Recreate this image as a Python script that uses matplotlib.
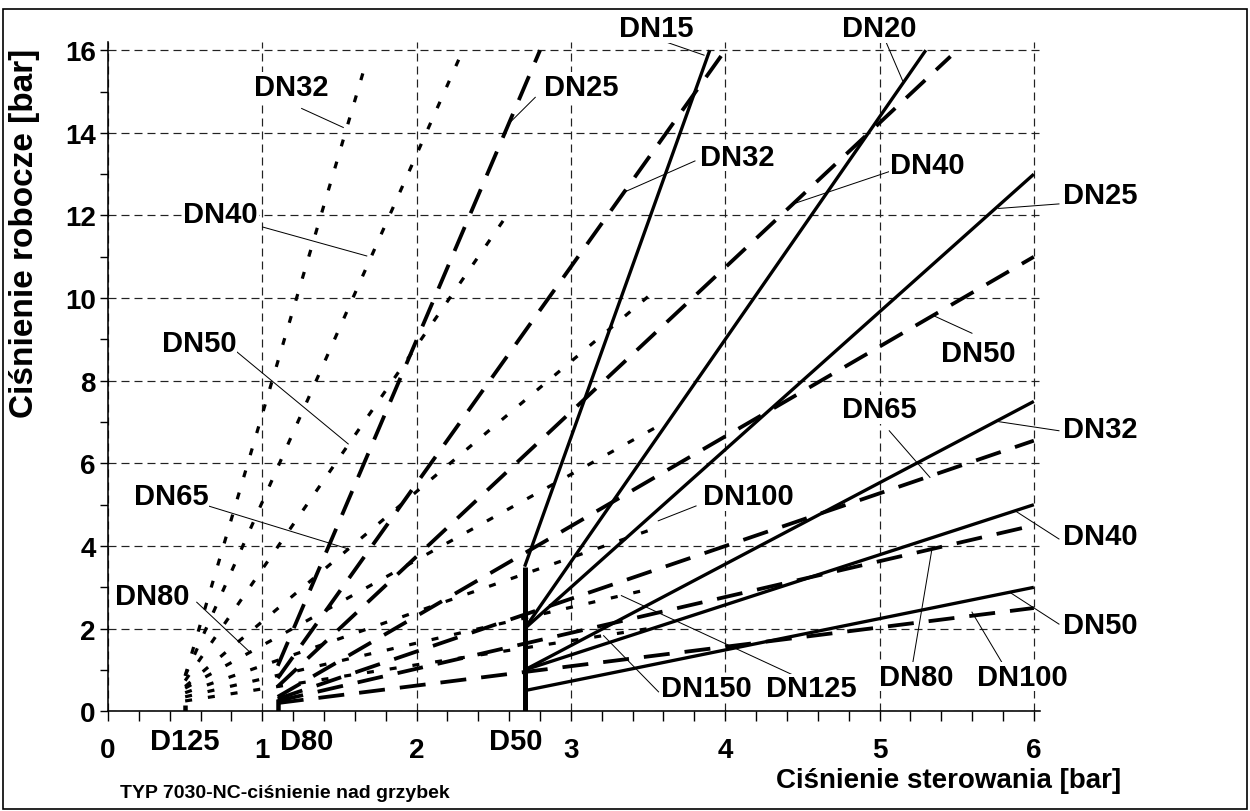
import matplotlib
matplotlib.use("Agg")
import matplotlib.pyplot as plt
from matplotlib.patches import Rectangle

plt.rcParams["font.family"] = ["Liberation Sans", "DejaVu Sans"]
plt.rcParams["font.weight"] = "bold"
plt.rcParams["lines.scale_dashes"] = False

# actuator D125 - dotted family (start on x = 0.5)
d125_x = 0.5
d125_stem = 0.15
d125_dn = ["DN32", "DN40", "DN50", "DN65", "DN80", "DN100", "DN125", "DN150"]
d125_y0 = [0.86, 0.86, 0.74, 0.60, 0.56, 0.45, 0.35, 0.25]
d125_x1 = [1.68, 2.30, 2.59, 3.52, 3.55, 3.53, 3.50, 3.50]
d125_y1 = [15.8, 16.0, 12.03, 10.1, 6.87, 4.41, 2.95, 2.0]

# actuator D80 - dashed family (start on x = 1.1)
d80_x = 1.1
d80_stem = 0.3
d80_dn = ["DN25", "DN32", "DN40", "DN50", "DN65", "DN80", "DN100"]
d80_y0 = [1.1, 0.8, 0.6, 0.35, 0.3, 0.25, 0.2]
d80_x1 = [2.8, 4.0, 5.46, 6.0, 6.0, 6.0, 6.0]
d80_y1 = [16.0, 16.0, 15.85, 11.0, 6.55, 4.5, 2.5]

# actuator D50 - solid family (start on x = 2.7)
d50_x = 2.7
d50_stem = 3.5
d50_dn = ["DN15", "DN20", "DN25", "DN32", "DN40", "DN50"]
d50_y0 = [3.5, 2.0, 2.0, 1.0, 1.0, 0.5]
d50_x1 = [3.9, 5.3, 6.0, 6.0, 6.0, 6.0]
d50_y1 = [16.0, 16.0, 13.0, 7.5, 5.0, 3.0]

actuators = ["D125", "D80", "D50"]
x_ticks = [0, 1, 2, 3, 4, 5, 6]
y_ticks = [0, 2, 4, 6, 8, 10, 12, 14, 16]

PX = 0.72  # pixels -> points at dpi 100

fig = plt.figure(figsize=(12.5, 8.12), dpi=100)
ax = fig.add_axes([0.0864, 0.1228, 0.7456, 0.8243])
ax.set_xlim(0, 6.04)
ax.set_ylim(0, 16.2)

dotted = dict(color="black", lw=3.2 * PX, linestyle=(0, (7 * PX, 16 * PX)))
dashed = dict(color="black", lw=3.8 * PX, linestyle=(0, (26 * PX, 15 * PX)))
solid = dict(color="black", lw=3.3 * PX, solid_capstyle="butt")

ax.plot([d125_x, d125_x], [0, d125_stem], color="black", lw=4.5 * PX, solid_capstyle="butt")
for y0, x1, y1 in zip(d125_y0, d125_x1, d125_y1):
    ax.plot([d125_x, x1], [y0, y1], **dotted)

ax.plot([d80_x, d80_x], [0, d80_stem], color="black", lw=4.5 * PX, solid_capstyle="butt")
for y0, x1, y1 in zip(d80_y0, d80_x1, d80_y1):
    ax.plot([d80_x, x1], [y0, y1], **dashed)

ax.plot([d50_x, d50_x], [0, d50_stem], color="black", lw=5 * PX, solid_capstyle="butt")
for y0, x1, y1 in zip(d50_y0, d50_x1, d50_y1):
    ax.plot([d50_x, x1], [y0, y1], **solid)

# grid / axes
ax.set_xticks(x_ticks)
ax.set_xticks([i * 0.2 for i in range(31)], minor=True)
ax.set_yticks(y_ticks)
ax.set_yticks(range(17), minor=True)
ax.grid(True, which="major", color="#222222", lw=1.2 * PX, linestyle=(0, (8 * PX, 5 * PX)))
ax.set_axisbelow(True)
ax.spines["top"].set_visible(False)
ax.spines["right"].set_visible(False)
for s in ("left", "bottom"):
    ax.spines[s].set_linewidth(1.6 * PX)
ax.tick_params(axis="x", which="both", length=10 * PX, width=1.4 * PX, direction="out",
               labelsize=20, pad=11)
ax.tick_params(axis="y", which="both", length=8 * PX, width=1.4 * PX, direction="out",
               labelsize=20, pad=3)
for lab in ax.get_xticklabels() + ax.get_yticklabels():
    lab.set_fontweight("bold")

# actuator names under the axis
for name, xs in zip(actuators, [d125_x, d80_x + 0.19, d50_x - 0.06]):
    ax.text(xs, -0.71, name, ha="center", va="center", fontsize=21, clip_on=False)

# DN labels with leader lines: text, label pos, leader start, leader end
labels = [
    ("DN32", 1.189, 15.12, 1.255, 14.59, 1.525, 14.13),
    ("DN40", 0.731, 12.03, 1.003, 11.72, 1.677, 11.02),
    ("DN50", 0.590, 8.92, 0.812, 8.77, 1.557, 6.47),
    ("DN65", 0.408, 5.20, 0.650, 4.97, 1.557, 3.93),
    ("DN80", 0.288, 2.78, 0.575, 2.64, 0.920, 1.43),
    ("DN25", 3.065, 15.12, 2.769, 14.86, 2.594, 14.21),
    ("DN32", 4.080, 13.42, 3.804, 13.32, 3.342, 12.56),
    ("DN40", 5.308, 13.22, 5.061, 13.06, 4.456, 12.30),
    ("DN25", 6.429, 12.49, 6.163, 12.28, 5.772, 12.17),
    ("DN50", 5.642, 8.68, 5.599, 9.15, 5.353, 9.57),
    ("DN15", 3.552, 16.53, 3.530, 16.31, 3.863, 15.88),
    ("DN20", 4.997, 16.53, 5.020, 16.39, 5.150, 15.26),
    ("DN65", 4.997, 7.31, 5.063, 6.79, 5.327, 5.66),
    ("DN32", 6.429, 6.84, 6.163, 6.79, 5.772, 7.01),
    ("DN100", 4.151, 5.20, 3.811, 4.97, 3.566, 4.61),
    ("DN40", 6.429, 4.25, 6.163, 4.17, 5.888, 4.83),
    ("DN50", 6.429, 2.09, 6.163, 2.11, 5.844, 2.88),
    ("DN150", 3.876, 0.56, 3.568, 0.47, 3.212, 1.83),
    ("DN125", 4.556, 0.56, 4.450, 0.86, 3.327, 2.80),
    ("DN80", 5.237, 0.84, 5.214, 1.14, 5.338, 3.89),
    ("DN100", 5.924, 0.84, 5.800, 1.14, 5.599, 2.40),
]
for txt, lx, ly, ax0, ay0, ax1, ay1 in labels:
    ax.plot([ax0, ax1], [ay0, ay1], color="black", lw=1.0 * PX, clip_on=False)
    ax.text(lx, ly, txt, ha="center", va="center", fontsize=21, clip_on=False,
            bbox=dict(facecolor="white", edgecolor="none", pad=0.5))

fig.text(949 / 1250, 1 - 781 / 812, "Ciśnienie sterowania [bar]", ha="center", va="center",
         fontsize=20)
fig.text(25 / 1250, 1 - 233 / 812, "Ciśnienie robocze [bar]", ha="center", va="center",
         rotation=90, fontsize=24)
fig.text(120 / 1250, 1 - 794 / 812, "TYP 7030-NC-ciśnienie nad grzybek", ha="left",
         va="center", fontsize=14)

fig.patches.append(Rectangle((3 / 1250, 2 / 812), 1244 / 1250, 800 / 812, transform=fig.transFigure,
                             fill=False, edgecolor="black", lw=1.2))

fig.savefig("out.png", dpi=100)
